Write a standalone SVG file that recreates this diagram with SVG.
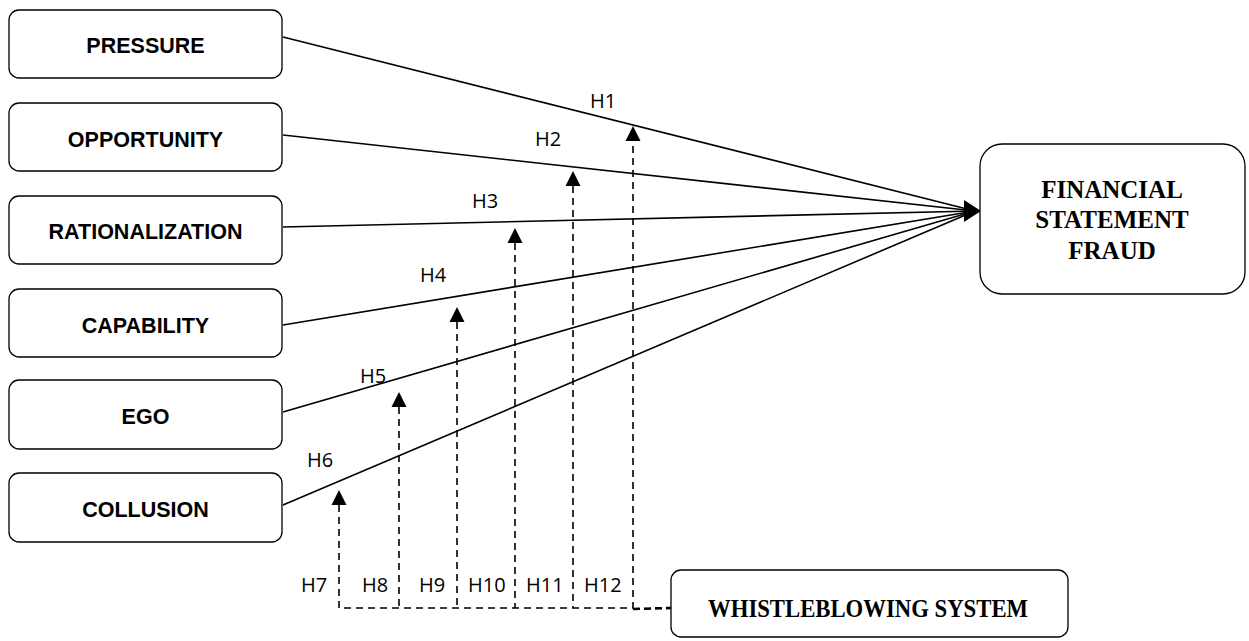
<svg xmlns="http://www.w3.org/2000/svg" width="1249" height="641" viewBox="0 0 1249 641">
<style>
.box{fill:#fff;stroke:#000;stroke-width:1.3}
.lbl{font-family:"Liberation Sans",Arial,sans-serif;font-weight:bold;font-size:21.5px;text-anchor:middle;fill:#000}
.ser{font-family:"Liberation Serif","Times New Roman",serif;font-weight:bold;font-size:25px;text-anchor:middle;fill:#000}
.h{font-family:"Open Sans","Liberation Sans",sans-serif;font-size:20px;fill:#000}
.sol{stroke:#000;stroke-width:1.6;fill:none}
.dash{stroke:#000;stroke-width:1.6;fill:none;stroke-dasharray:7 5}
.ah{fill:#000}
</style>
<rect width="1249" height="641" fill="#fff"/>
<g id="connectors">
<line class="sol" x1="283" y1="37" x2="975" y2="211"/>
<line class="sol" x1="283" y1="135" x2="975" y2="211"/>
<line class="sol" x1="283" y1="227" x2="975" y2="211"/>
<line class="sol" x1="283" y1="325" x2="975" y2="211"/>
<line class="sol" x1="283" y1="412" x2="975" y2="211"/>
<line class="sol" x1="283" y1="505" x2="975" y2="211"/>
<polygon class="ah" points="964,200 964,222 981,211"/>
<path class="dash" d="M339,505 V608 H633 V141 M399,407 V608 M457,322 V608 M515,243 V608 M573,186 V608"/>
<line x1="633" y1="609" x2="671" y2="608" stroke="#000" stroke-width="2.6" stroke-dasharray="7 4"/>
<polygon class="ah" points="339,490 331.5,505 346.5,505"/>
<polygon class="ah" points="399,392 391.5,407 406.5,407"/>
<polygon class="ah" points="457,307 449.5,322 464.5,322"/>
<polygon class="ah" points="515,228 507.5,243 522.5,243"/>
<polygon class="ah" points="573,171 565.5,186 580.5,186"/>
<polygon class="ah" points="633,126 625.5,141 640.5,141"/>
<text class="h" x="590" y="108">H1</text>
<text class="h" x="535" y="146">H2</text>
<text class="h" x="472" y="208">H3</text>
<text class="h" x="420" y="282">H4</text>
<text class="h" x="360" y="383">H5</text>
<text class="h" x="307" y="467">H6</text>
<text class="h" x="301" y="592">H7</text>
<text class="h" x="362" y="592">H8</text>
<text class="h" x="419" y="592">H9</text>
<text class="h" x="468" y="592">H10</text>
<text class="h" x="526" y="592">H11</text>
<text class="h" x="584" y="592">H12</text>
</g>
<g id="pressure"><rect class="box" x="9" y="10" width="273" height="68" rx="10"/><text class="lbl" x="145.5" y="53">PRESSURE</text></g>
<g id="opportunity"><rect class="box" x="9" y="103" width="273" height="68" rx="10"/><text class="lbl" x="145.5" y="147">OPPORTUNITY</text></g>
<g id="rationalization"><rect class="box" x="9" y="196" width="273" height="68" rx="10"/><text class="lbl" x="145.5" y="239">RATIONALIZATION</text></g>
<g id="capability"><rect class="box" x="9" y="289" width="273" height="68" rx="10"/><text class="lbl" x="145.5" y="333">CAPABILITY</text></g>
<g id="ego"><rect class="box" x="9" y="380" width="273" height="69" rx="10"/><text class="lbl" x="145.5" y="424">EGO</text></g>
<g id="collusion"><rect class="box" x="9" y="473" width="273" height="69" rx="10"/><text class="lbl" x="145.5" y="517">COLLUSION</text></g>
<g id="fsf"><rect class="box" x="980" y="144" width="265" height="150" rx="22"/>
<text class="ser" x="1112" y="198">FINANCIAL</text>
<text class="ser" x="1112" y="228">STATEMENT</text>
<text class="ser" x="1112" y="259">FRAUD</text></g>
<g id="whistleblowing"><rect class="box" x="671" y="570" width="397" height="67" rx="10"/>
<text class="ser" x="868" y="617" textLength="320" lengthAdjust="spacingAndGlyphs">WHISTLEBLOWING SYSTEM</text></g>
</svg>
